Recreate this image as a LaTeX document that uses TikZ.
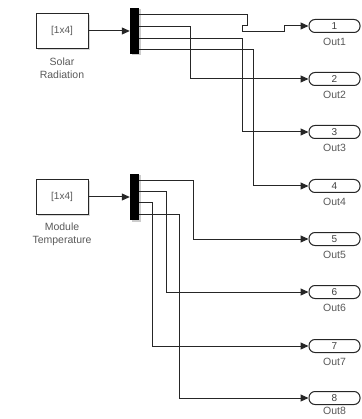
\documentclass[tikz,border=0pt]{standalone}
\usepackage{fontspec}
\setmainfont{Liberation Sans}
\usetikzlibrary{arrows.meta,shadows}
\begin{document}
\begin{tikzpicture}[x=1pt,y=-1pt,
  constblk/.style={draw=black!85, fill=white, line width=1pt, minimum width=52pt, minimum height=35pt, inner sep=0pt,
    font=\fontsize{10}{11}\selectfont, text=black!65,
    drop shadow={shadow xshift=1.5pt, shadow yshift=-1.5pt, fill=black!30, opacity=0.5}},
  demuxblk/.style={fill=black, minimum width=9pt, minimum height=46pt, inner sep=0pt,
    drop shadow={shadow xshift=1.5pt, shadow yshift=-1.5pt, fill=black!40, opacity=0.5}},
  portblk/.style={draw=black!85, fill=white, line width=1pt, rounded corners=6pt, minimum width=51pt, minimum height=13pt, inner sep=0pt,
    font=\fontsize{10}{11}\selectfont, text=black!75},
  lbl/.style={font=\fontsize{10.5}{13}\selectfont, text=black!65, align=center},
  wire/.style={draw=black!85, line width=1pt, -{Triangle[length=8pt,width=7pt]}}
]
\useasboundingbox (0,0) rectangle (361,419);

% sources
\node[constblk] (c1) at (62,31) {[1x4]};
\node[lbl, anchor=north] (l1) at (62,54) {Solar\\Radiation};
\node[constblk] (c2) at (62,197) {[1x4]};
\node[lbl, anchor=north] (l2) at (62,219) {Module\\Temperature};

% demuxes
\node[demuxblk] (d1) at (134.5,31) {};
\node[demuxblk] (d2) at (134.5,197) {};

\draw[wire] (c1) -- (d1);
\draw[wire] (c2) -- (d2);

% demux outputs
\coordinate (a1) at (139,15);
\coordinate (a2) at (139,27);
\coordinate (a3) at (139,39);
\coordinate (a4) at (139,50);
\coordinate (b1) at (139,181);
\coordinate (b2) at (139,192);
\coordinate (b3) at (139,203);
\coordinate (b4) at (139,214);

% outports
\foreach \i/\y/\d in {1/26/8.5,2/79/8.5,3/132/8.5,4/186/8.5,5/239/8.5,6/292/8.5,7/346/8.5,8/398/6}{
  \node[portblk] (o\i) at (334.5,\y) {\i};
  \node[lbl, anchor=north] (ol\i) at (334.5,\y+\d) {Out\i};
}

% vertical route positions
\coordinate (v2) at (190,0);
\coordinate (v3) at (242,0);
\coordinate (v4) at (253,0);
\coordinate (v5) at (193,0);
\coordinate (v6) at (166,0);
\coordinate (v7) at (152,0);
\coordinate (v8) at (179,0);

% top wires
\draw[wire] (a1) -- (247,15) -- (247,26) -- (242,26) -- (242,32) -- (284,32) -- (284,26) -- (o1);
\draw[wire] (a2) -| (v2 |- o2) -- (o2);
\draw[wire] (a3) -| (v3 |- o3) -- (o3);
\draw[wire] (a4) -| (v4 |- o4) -- (o4);

% bottom wires
\draw[wire] (b1) -| (v5 |- o5) -- (o5);
\draw[wire] (b2) -| (v6 |- o6) -- (o6);
\draw[wire] (b3) -| (v7 |- o7) -- (o7);
\draw[wire] (b4) -| (v8 |- o8) -- (o8);
\end{tikzpicture}
\end{document}
